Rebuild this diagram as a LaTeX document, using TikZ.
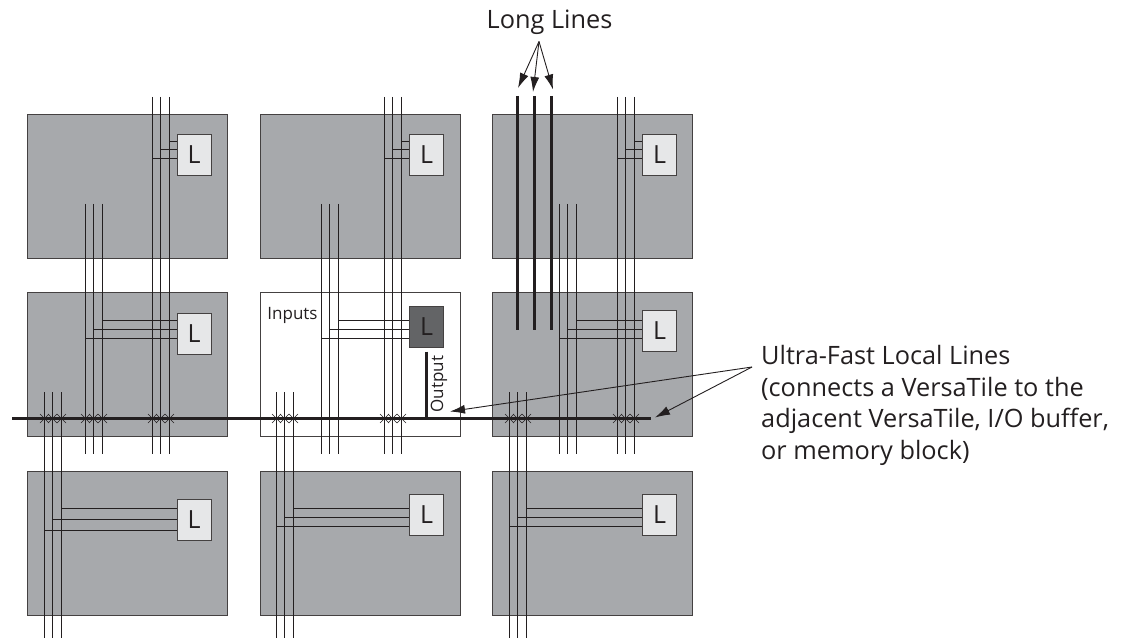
\documentclass[tikz,border=0pt]{standalone}
\usepackage{fontspec}
\setmainfont{Open Sans}
\usetikzlibrary{arrows.meta}
\definecolor{blockgray}{HTML}{A7A9AC}
\definecolor{lgray}{HTML}{E6E7E8}
\definecolor{ldark}{HTML}{636466}
\definecolor{ink}{HTML}{231F20}
\tikzset{
  block/.style={draw=ink!85,line width=0.9pt,fill=blockgray,minimum width=200pt,minimum height=144pt,inner sep=0pt},
  lbox/.style={draw=ink!85,line width=0.9pt,fill=lgray,minimum width=34pt,minimum height=41pt,inner sep=0pt,text=ink,font=\fontsize{25}{25}\selectfont},
  wire/.style={ink,line width=1.4pt},
  longwire/.style={ink,line width=3pt},
  xmark/.style={ink,line width=0.4pt},
  callout/.style={ink,line width=0.9pt,-{Latex[length=15pt,width=9pt]}},
  label/.style={text=ink,inner sep=0pt,font=\fontsize{25.3}{32}\selectfont},
  smalllabel/.style={text=ink,inner sep=0pt,font=\fontsize{17}{18}\selectfont}
}
\begin{document}
\begin{tikzpicture}[x=1pt,y=-1pt]
  \useasboundingbox (0,0) rectangle (1121,639);
  % blocks
  \node[block] (b11) at (127,186) {};
  \node[block] (b12) at (360,186) {};
  \node[block] (b13) at (592.5,186) {};
  \node[block] (b21) at (127,364.5) {};
  \node[block,fill=white] (b22) at (360,364.5) {};
  \node[block] (b23) at (592.5,364.5) {};
  \node[block] (b31) at (127,543.5) {};
  \node[block] (b32) at (360,543.5) {};
  \node[block] (b33) at (592.5,543.5) {};
  % logic boxes
  \node[lbox] (l11) at (194,154.5) {L};
  \node[lbox] (l12) at (426.5,154.5) {L};
  \node[lbox] (l13) at (659.5,154.5) {L};
  \node[lbox] (l21) at (194,333.5) {L};
  \node[lbox,fill=ldark] (l22) at (426.5,327) {L};
  \node[lbox] (l23) at (659.5,331) {L};
  \node[lbox] (l31) at (194,519.5) {L};
  \node[lbox] (l32) at (426.5,514.5) {L};
  \node[lbox] (l33) at (659.5,514.5) {L};
  % local wires: three verticals
  \foreach \xa in {152.5,384.5,617.5} {
    \foreach \dx in {0,8,17} \draw[wire] (\xa+\dx,97) -- (\xa+\dx,454);
  }
  \foreach \xa in {85.5,321.5,559.5} {
    \foreach \dx in {0,8,17} \draw[wire] (\xa+\dx,204) -- (\xa+\dx,454);
  }
  \foreach \xa in {44.5,276.5,509.5} {
    \foreach \dx in {0,8,17} \draw[wire] (\xa+\dx,392) -- (\xa+\dx,638);
  }
  % branches into the L boxes
  \foreach \xa/\tbl in {152.5/l11,384.5/l12,617.5/l13} {
    \draw[wire] (\xa+17,141.5) -- (\tbl.west |- 0,141.5);
    \draw[wire] (\xa+8,149.5) -- (\tbl.west |- 0,149.5);
    \draw[wire] (\xa,158.5) -- (\tbl.west |- 0,158.5);
  }
  \foreach \xa/\tbl in {85.5/l21,321.5/l22,559.5/l23} {
    \draw[wire] (\xa+17,320.5) -- (\tbl.west |- 0,320.5);
    \draw[wire] (\xa+8,329.5) -- (\tbl.west |- 0,329.5);
    \draw[wire] (\xa,338.5) -- (\tbl.west |- 0,338.5);
  }
  \draw[wire] (61.5,508.5) -- (l31.west |- 0,508.5);
  \draw[wire] (52.5,519.5) -- (l31.west |- 0,519.5);
  \draw[wire] (44.5,530.5) -- (l31.west |- 0,530.5);
  \foreach \xa/\tbl in {276.5/l32,509.5/l33} {
    \draw[wire] (\xa+17,508.5) -- (\tbl.west |- 0,508.5);
    \draw[wire] (\xa+8,517.5) -- (\tbl.west |- 0,517.5);
    \draw[wire] (\xa,526.5) -- (\tbl.west |- 0,526.5);
  }
  % long lines
  \foreach \xa in {517.5,534.5,551.5} {
    \draw[longwire] (\xa,96) -- (\xa,330);
  }
  % ultra-fast line and output stem
  \coordinate (barw) at (12,418.5);
  \coordinate (bare) at (651,418.5);
  \coordinate (stemt) at (426.5,351.5);
  \draw[longwire] (barw) -- (bare);
  \draw[longwire] (stemt) -- (stemt |- barw);
  % crossings on the line
  \foreach \xa in {44.5,85.5,152.5,276.5,384.5,509.5,617.5}
    \foreach \dx in {0,8,17} {
      \draw[xmark] (\xa+\dx-4.5,414) -- (\xa+\dx+4.5,423);
      \draw[xmark] (\xa+\dx-4.5,423) -- (\xa+\dx+4.5,414);
    }
  % labels
  \node[label,anchor=base] (longlab) at (549.5,29) {Long Lines};
  \node[label,anchor=base west] (ultralab) at (761,364.5) {Ultra-Fast Local Lines};
  \node[label,anchor=base west] (conn) at (761,396) {(connects a VersaTile to the};
  \node[label,anchor=base west] (adj) at (761,427.5) {adjacent VersaTile, I/O buffer,};
  \node[label,anchor=base west] (mem) at (761,459) {or memory block)};
  \node[smalllabel] (inlab) at (292.5,315) {Inputs};
  \node[smalllabel,rotate=90] (outlab) at (439,384) {Output};
  % callouts
  \coordinate (longapex) at (539,41.5);
  \coordinate (tipa) at (518,88);
  \coordinate (tipb) at (533,92);
  \coordinate (tipc) at (553,89.5);
  \coordinate (ultraapex) at (752,367);
  \coordinate (tipd) at (450,411.5);
  \coordinate (tipe) at (655,417.5);
  \draw[callout] (longapex) -- (tipa);
  \draw[callout] (longapex) -- (tipb);
  \draw[callout] (longapex) -- (tipc);
  \draw[callout] (ultraapex) -- (tipd);
  \draw[callout] (ultraapex) -- (tipe);
\end{tikzpicture}
\end{document}
